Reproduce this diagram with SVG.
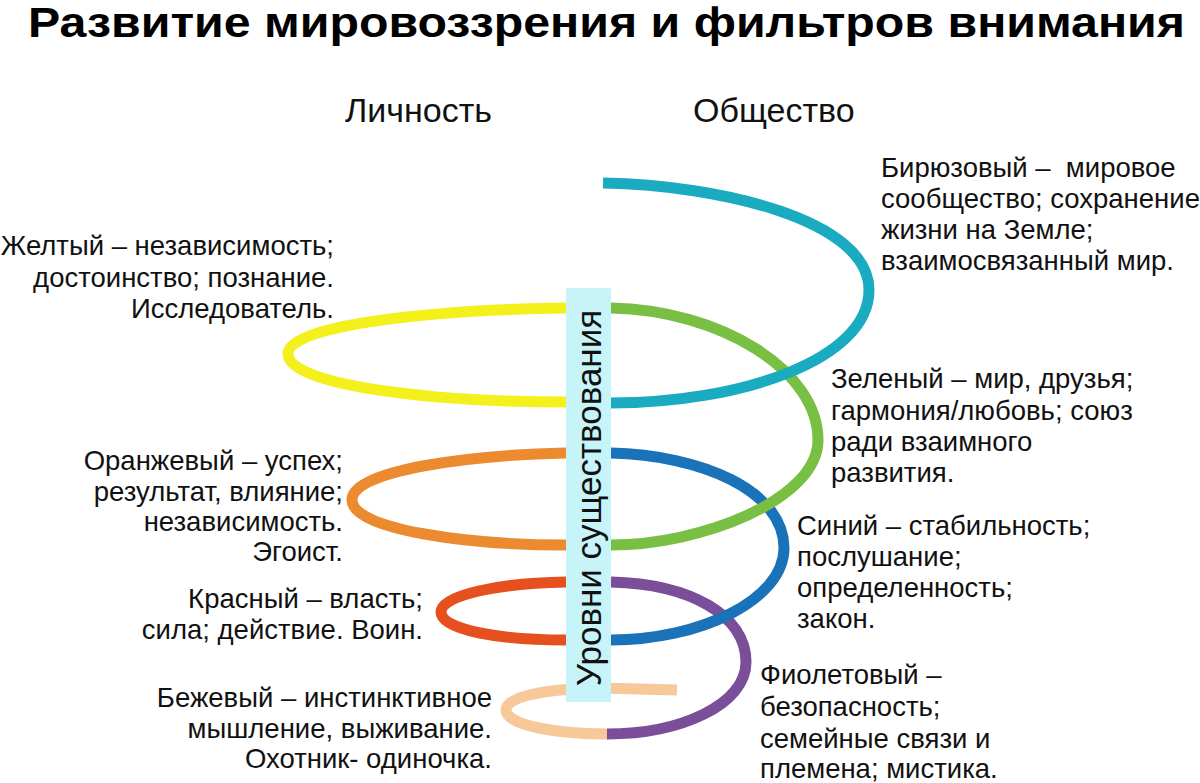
<svg xmlns="http://www.w3.org/2000/svg" width="1200" height="783" viewBox="0 0 1200 783">
<style>
.t{font-family:"Liberation Sans",Arial,sans-serif;font-size:27.5px;fill:#111}
.r{text-anchor:end}
.h{font-family:"Liberation Sans",Arial,sans-serif;font-size:34px;fill:#111}
.s{fill:none;stroke-width:11;stroke-linecap:butt}
</style>
<rect width="1200" height="783" fill="#fff"/>
<text x="28" y="37" font-family="Liberation Sans, Arial, sans-serif" font-weight="bold" font-size="43" fill="#000" textLength="1157" lengthAdjust="spacingAndGlyphs">Развитие мировоззрения и фильтров внимания</text>
<text class="h" x="345" y="122">Личность</text>
<text class="h" x="693" y="122">Общество</text>
<g id="connectors">
<path class="s" stroke="#f7c899" d="M607,734 C560,734 506,726 506,710 C506,695 550,689 600,688 L677,690"/>
<path class="s" stroke="#7a4e98" d="M611,582 C690,584 746,615 746,662 C746,705 680,734 607,734"/>
<path class="s" stroke="#1a73b8" d="M611,453 C700,455 784,490 784,548 C784,600 700,640 611,640"/>
<path class="s" stroke="#78bf43" d="M611,308 C720,310 818,370 818,440 C818,500 700,545 611,545"/>
<path class="s" stroke="#1aabc1" d="M603,183 C720,185 869,220 869,290 C869,360 740,403 611,403"/>
<path class="s" stroke="#f4f01c" d="M566,308 C430,310 288,325 288,354 C288,385 430,402 566,402"/>
<path class="s" stroke="#eb8a2e" d="M566,453 C470,455 352,470 352,500 C352,530 470,545 566,545"/>
<path class="s" stroke="#e5501e" d="M566,582 C500,583 441,595 441,612 C441,630 500,640 566,640"/>
</g>
<g id="bar">
<rect x="566" y="288" width="45" height="414" fill="#c7f4f8"/>
<text transform="translate(601,498) rotate(-90)" text-anchor="middle" font-family="Liberation Sans, Arial, sans-serif" font-size="35" fill="#111">Уровни существования</text>
</g>
<g id="turquoise">
<text class="t" x="881" y="177" style="white-space:pre">Бирюзовый –  мировое</text>
<text class="t" x="881" y="208">сообщество; сохранение</text>
<text class="t" x="881" y="239">жизни на Земле;</text>
<text class="t" x="881" y="270">взаимосвязанный мир.</text>
</g>
<g id="yellow">
<text class="t r" x="334" y="255">Желтый – независимость;</text>
<text class="t r" x="334" y="287">достоинство; познание.</text>
<text class="t r" x="334" y="318">Исследователь.</text>
</g>
<g id="green">
<text class="t" x="831" y="388">Зеленый – мир, друзья;</text>
<text class="t" x="831" y="420">гармония/любовь; союз</text>
<text class="t" x="831" y="451">ради взаимного</text>
<text class="t" x="831" y="482">развития.</text>
</g>
<g id="orange">
<text class="t r" x="343" y="470">Оранжевый – успех;</text>
<text class="t r" x="343" y="501">результат, влияние;</text>
<text class="t r" x="343" y="531">независимость.</text>
<text class="t r" x="343" y="561">Эгоист.</text>
</g>
<g id="blue">
<text class="t" x="797" y="535">Синий – стабильность;</text>
<text class="t" x="797" y="566">послушание;</text>
<text class="t" x="797" y="597">определенность;</text>
<text class="t" x="797" y="628">закон.</text>
</g>
<g id="red">
<text class="t r" x="423" y="608">Красный – власть;</text>
<text class="t r" x="423" y="639">сила; действие. Воин.</text>
</g>
<g id="purple">
<text class="t" x="760" y="684">Фиолетовый –</text>
<text class="t" x="760" y="716">безопасность;</text>
<text class="t" x="760" y="748">семейные связи и</text>
<text class="t" x="760" y="778">племена; мистика.</text>
</g>
<g id="beige">
<text class="t r" x="492" y="707">Бежевый – инстинктивное</text>
<text class="t r" x="492" y="738">мышление, выживание.</text>
<text class="t r" x="492" y="768">Охотник- одиночка.</text>
</g>
</svg>
